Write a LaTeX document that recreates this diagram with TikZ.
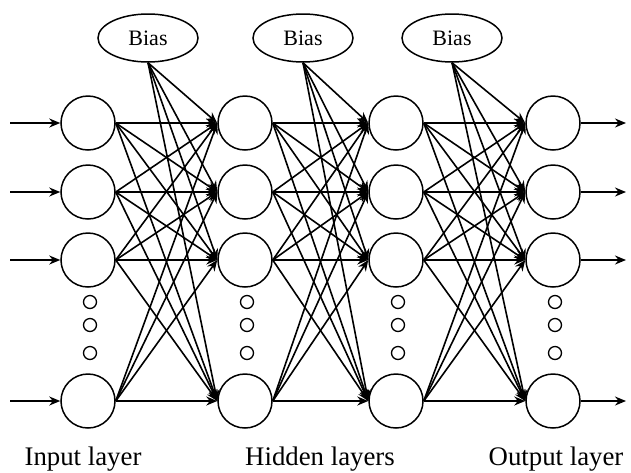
\documentclass[tikz,border=0pt]{standalone}
\usepackage{fontspec}
\setmainfont{Liberation Serif}
\usetikzlibrary{shapes.geometric}
\usetikzlibrary{arrows.meta}

\begin{document}
\begin{tikzpicture}[
        x=0.5pt, y=-0.5pt,
        neuron/.style={circle, draw=black, line width=0.75pt, minimum size=27pt, inner sep=0},
        dotnode/.style={circle, draw=black, line width=0.65pt, minimum size=6.5pt, inner sep=0},
        bias/.style={ellipse, draw=black, line width=0.75pt, minimum width=50pt, minimum height=24pt, inner sep=0, font=\fontsize{11}{13}\selectfont},
        layerlabel/.style={font=\fontsize{13.4}{16}\selectfont},
        link/.style={-{Stealth[length=5.5pt, width=4.5pt]}, line width=0.8pt},
    ]
        \useasboundingbox (0,0) rectangle (631,472);

        % layers: name/x position
        \def\layers{In/88, HidA/245, HidB/396, Out/553}

        % neurons and dots
        \foreach \layername/\x in \layers {
            \foreach \i/\y in {1/123, 2/192, 3/260, 4/401} {
                \node[neuron] (\layername-\i) at (\x, \y) {};
            }
            \foreach \k/\y in {1/302, 2/325, 3/353} {
                \node[dotnode] (\layername-d\k) at (\x+2, \y) {};
            }
        }

        % bias units
        \node[bias] (BiasA) at (148,38) {Bias};
        \node[bias] (BiasB) at (303,38) {Bias};
        \node[bias] (BiasC) at (452,38) {Bias};

        % inputs and outputs
        \foreach \i in {1,...,4} {
            \coordinate (src-\i) at (10, 0 |- In-\i);
            \coordinate (dst-\i) at (626, 0 |- Out-\i);
            \draw[link] (src-\i) -- (In-\i.west);
            \draw[link] (Out-\i.east) -- (dst-\i);
        }

        % full connections between layers, bias to every neuron
        \foreach \from/\to/\b in {In/HidA/BiasA, HidA/HidB/BiasB, HidB/Out/BiasC} {
            \foreach \i in {1,...,4} {
                \foreach \j in {1,...,4} {
                    \draw[link] (\from-\i.east) -- (\to-\j.west);
                }
                \draw[link] (\b.south) -- (\to-\i.west);
            }
        }

        % labels
        \node[layerlabel] (lblIn) at (83,459) {Input layer};
        \node[layerlabel] (lblHid) at (320,459) {Hidden layers};
        \node[layerlabel] (lblOut) at (556,459) {Output layer};

    \end{tikzpicture}
\end{document}
